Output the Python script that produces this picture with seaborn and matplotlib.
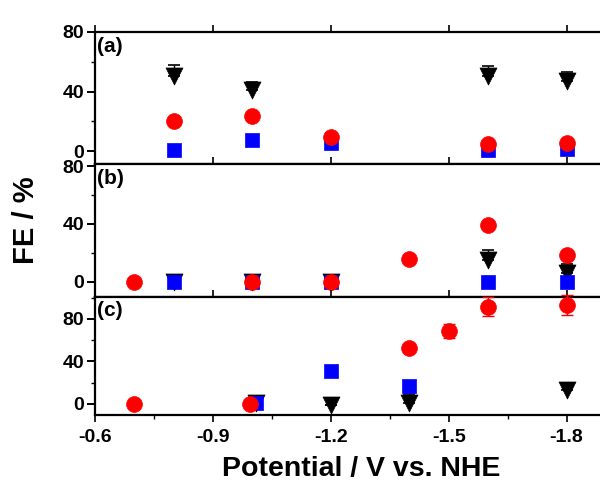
import matplotlib
matplotlib.use("Agg")
import matplotlib.pyplot as plt
import seaborn as sns
from matplotlib.ticker import MultipleLocator

sns.set_style("ticks")
plt.rcParams['font.family'] = ['Liberation Sans', 'DejaVu Sans']
plt.rcParams['font.weight'] = 'bold'
for k in ['text.color', 'axes.labelcolor', 'xtick.color', 'ytick.color', 'axes.edgecolor']:
    plt.rcParams[k] = 'black'

# ---- data (potential in V vs NHE, FE in %) ----
# panel (a)
a_red_x = [-0.8, -1.0, -1.2, -1.6, -1.8]
a_red_y = [20.0, 23.4, 9.2, 4.5, 5.1]
a_blue_x = [-0.8, -1.0, -1.2, -1.6, -1.8]
a_blue_y = [0.7, 7.3, 5.1, 0.7, 1.3]
a_blk_x = [-0.8, -1.0, -1.6, -1.8]
a_blk_y = [50.5, 41.0, 50.5, 47.0]
a_blk_e = [7.0, 5.5, 6.5, 6.0]

# panel (b)
b_red_x = [-0.7, -1.0, -1.2, -1.4, -1.6, -1.8]
b_red_y = [0.0, 0.0, 0.0, 16.0, 39.2, 18.8]
b_blue_x = [-0.8, -1.0, -1.2, -1.6, -1.8]
b_blue_y = [0.0, 0.0, 0.0, 0.0, 0.0]
b_blk_x = [-0.8, -1.0, -1.2, -1.6, -1.8]
b_blk_y = [0.0, 0.0, 0.0, 15.3, 6.5]
b_blk_e = [2.0, 2.0, 2.0, 7.0, 6.0]

# panel (c)
c_red_x = [-0.7, -0.995, -1.4, -1.5, -1.6, -1.8]
c_red_y = [0.0, 0.0, 53.0, 68.7, 91.6, 93.2]
c_red_e = [0.0, 0.0, 3.0, 6.5, 9.0, 9.0]
c_blue_x = [-1.01, -1.2, -1.4]
c_blue_y = [1.0, 31.4, 17.3]
c_blk_x = [-1.01, -1.2, -1.4, -1.8]
c_blk_y = [0.5, -1.0, 0.5, 13.0]
c_blk_e = [6.5, 0.0, 9.0, 6.0]

panel_labels = ["(a)", "(b)", "(c)"]
x_ticks = [-0.6, -0.9, -1.2, -1.5, -1.8]
y_ticks = [0, 40, 80]

RED = "#FF0000"
BLUE = "#0000FF"
BLK = "#000000"

fig = plt.figure(figsize=(6.0, 4.83), dpi=100)
W, H = 600.0, 483.0
left = 95 / W
right = 1.0
bounds = [(32, 164), (164, 297), (297, 415)]
ylims = [(-8.7, 80.0), (-10.4, 81.4), (-10.4, 100.7)]

panels = [
    dict(red=(a_red_x, a_red_y, None), blue=(a_blue_x, a_blue_y), blk=(a_blk_x, a_blk_y, a_blk_e)),
    dict(red=(b_red_x, b_red_y, None), blue=(b_blue_x, b_blue_y), blk=(b_blk_x, b_blk_y, b_blk_e)),
    dict(red=(c_red_x, c_red_y, c_red_e), blue=(c_blue_x, c_blue_y), blk=(c_blk_x, c_blk_y, c_blk_e)),
]

axes = []
for i, (top_px, bot_px) in enumerate(bounds):
    ax = fig.add_axes([left, 1 - bot_px / H, right - left, (bot_px - top_px) / H])
    axes.append(ax)
    p = panels[i]

    bx, by, be = p["blk"]
    ax.errorbar(bx, by, yerr=[[0] * len(be), be], fmt="none", ecolor=BLK, elinewidth=1.0,
                capsize=4, capthick=1.2, zorder=2, clip_on=False)
    sns.scatterplot(x=bx, y=by, marker="v", s=150, color=BLK, edgecolor=BLK,
                    linewidth=0.5, ax=ax, zorder=3, clip_on=False)

    ux, uy = p["blue"]
    sns.scatterplot(x=ux, y=uy, marker="s", s=100, color=BLUE, edgecolor=BLUE,
                    linewidth=0.5, ax=ax, zorder=4, clip_on=False)

    rx, ry, re = p["red"]
    if re is not None:
        ax.errorbar(rx, ry, yerr=re, fmt="none", ecolor=RED, elinewidth=1.0,
                    capsize=4, capthick=1.0, zorder=5, clip_on=False)
    sns.scatterplot(x=rx, y=ry, marker="o", s=130, color=RED, edgecolor=RED,
                    linewidth=0.5, ax=ax, zorder=6, clip_on=False)

    ax.set_xlim(-0.6, -1.885)
    ax.set_ylim(*ylims[i])
    ax.set_xticks(x_ticks)
    ax.xaxis.set_minor_locator(MultipleLocator(0.15))
    ax.set_yticks(y_ticks)
    ax.yaxis.set_minor_locator(MultipleLocator(20))
    ax.set_yticklabels([str(t) for t in y_ticks], fontsize=14, fontweight="bold")
    for s in ["left", "top", "bottom"]:
        ax.spines[s].set_linewidth(1.6)
        ax.spines[s].set_color("black")
    ax.spines["right"].set_visible(False)
    ax.tick_params(axis="y", which="major", direction="out", length=6, width=1.4, pad=2)
    ax.tick_params(axis="y", which="minor", direction="out", length=3, width=1.0)
    ax.tick_params(axis="x", which="major", direction="out", length=5, width=1.2,
                   top=True, bottom=True)
    ax.tick_params(axis="x", which="minor", direction="out", length=3, width=1.0,
                   top=False, bottom=True)
    ax.set_xlabel("")
    ax.set_ylabel("")
    ax.text(0.004, 0.965, panel_labels[i], transform=ax.transAxes, fontsize=15,
            fontweight="bold", va="top", ha="left", color="black")
    if i < 2:
        ax.tick_params(axis="x", labelbottom=False)
    else:
        ax.set_xticklabels([f"{t:.1f}" for t in x_ticks], fontsize=14, fontweight="bold")
        ax.tick_params(axis="x", which="major", pad=5)

fig.text(361 / W, 0.003, "Potential / V vs. NHE", fontsize=20.5, fontweight="bold",
         ha="center", va="bottom", color="black")
fig.text(26.5 / W, 1 - 220.5 / H, "FE / %", rotation=90, fontsize=21, fontweight="bold",
         ha="center", va="center", color="black")

fig.savefig("out.png", dpi=100)
